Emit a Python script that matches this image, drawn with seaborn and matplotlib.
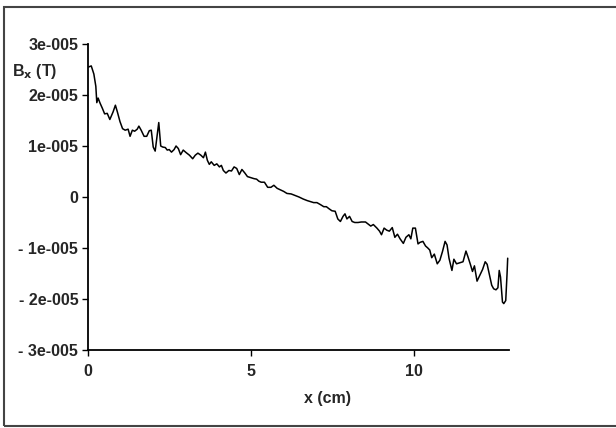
import numpy as np
import pandas as pd
import matplotlib
matplotlib.use("Agg")
import matplotlib.pyplot as plt
import seaborn as sns
from matplotlib.patches import Rectangle

# position along the probe (cm)
x_cm = [
    0.02, 0.10, 0.18, 0.24, 0.27, 0.31, 0.37, 0.44, 0.51, 0.59, 0.67, 0.77, 0.84, 0.90,
    0.98, 1.06, 1.14, 1.23, 1.29, 1.36, 1.43, 1.51, 1.56, 1.63, 1.72, 1.80, 1.88, 1.94,
    2.00, 2.06, 2.13, 2.17, 2.23, 2.29, 2.37, 2.43, 2.49, 2.56, 2.64,
    2.70, 2.77, 2.84, 2.92, 3.01, 3.11, 3.21, 3.29, 3.37, 3.46, 3.54, 3.60, 3.66, 3.72,
    3.78, 3.87, 3.95, 4.03, 4.09, 4.15, 4.23, 4.32, 4.40, 4.48, 4.56, 4.64, 4.72, 4.81,
    4.89, 4.99, 5.09, 5.17, 5.24,
    5.31, 5.41, 5.51, 5.61, 5.70, 5.80, 5.90, 6.00, 6.10, 6.23, 6.35, 6.47, 6.60, 6.72,
    6.82, 6.92, 7.02, 7.13, 7.23, 7.31, 7.39, 7.48, 7.58, 7.66, 7.74, 7.82, 7.88,
    7.94, 8.02, 8.10, 8.18, 8.28, 8.38, 8.51, 8.59, 8.67, 8.75, 8.86, 8.94, 9.00, 9.08,
    9.16, 9.24, 9.33, 9.41, 9.49, 9.57, 9.67, 9.75, 9.84, 9.90, 9.96, 10.04, 10.12, 10.18,
    10.27, 10.35,
    10.42, 10.48, 10.54, 10.62, 10.71, 10.79, 10.87, 10.95, 11.01, 11.07, 11.16, 11.22,
    11.30, 11.40, 11.50, 11.59, 11.65, 11.73, 11.79, 11.85, 11.93, 12.02, 12.10, 12.18,
    12.24, 12.30, 12.38, 12.44, 12.51, 12.57, 12.61, 12.65, 12.71, 12.75, 12.81, 12.85,
    12.87,
]

# Bx in units of 1e-5 T
bx_e5 = [
    2.55, 2.57, 2.41, 2.17, 1.85, 1.94, 1.84, 1.74, 1.63, 1.64, 1.52, 1.67, 1.80, 1.67,
    1.48, 1.34, 1.31, 1.33, 1.19, 1.31, 1.29, 1.33, 1.39, 1.31, 1.19, 1.19, 1.30, 1.31,
    0.98, 0.90, 1.25, 1.46, 1.00, 0.98, 0.97, 0.92, 0.93, 0.88, 0.93,
    1.00, 0.95, 0.83, 0.92, 0.87, 0.82, 0.75, 0.82, 0.86, 0.82, 0.77, 0.88, 0.72, 0.64,
    0.69, 0.62, 0.65, 0.59, 0.62, 0.52, 0.47, 0.52, 0.51, 0.59, 0.56, 0.44, 0.54, 0.47,
    0.40, 0.38, 0.36, 0.35, 0.31,
    0.29, 0.29, 0.19, 0.19, 0.23, 0.17, 0.14, 0.11, 0.07, 0.06, 0.03, 0.00, -0.04, -0.07,
    -0.09, -0.11, -0.11, -0.15, -0.19, -0.19, -0.23, -0.27, -0.28, -0.43, -0.48, -0.38, -0.33,
    -0.43, -0.38, -0.48, -0.50, -0.50, -0.49, -0.49, -0.53, -0.57, -0.54, -0.61, -0.67, -0.74, -0.61,
    -0.65, -0.67, -0.60, -0.79, -0.73, -0.82, -0.91, -0.79, -0.74, -0.82, -0.61, -0.61, -0.92, -0.89,
    -0.87, -0.96,
    -1.00, -1.04, -1.19, -1.12, -1.31, -1.24, -1.07, -0.87, -0.94, -1.20, -1.44, -1.22,
    -1.31, -1.29, -1.27, -1.06, -1.17, -1.33, -1.46, -1.35, -1.65, -1.53, -1.42, -1.27,
    -1.32, -1.50, -1.73, -1.80, -1.82, -1.78, -1.44, -1.57, -2.06, -2.09, -2.03, -1.51,
    -1.20,
]

y_ticks = [3e-5, 2e-5, 1e-5, 0, -1e-5, -2e-5, -3e-5]
y_tick_labels = ["3e-005", "2e-005", "1e-005", "0", "- 1e-005", "- 2e-005", "- 3e-005"]
x_ticks = [0, 5, 10]
x_tick_labels = ["0", "5", "10"]

df = pd.DataFrame({"x": x_cm, "bx": np.array(bx_e5) * 1e-5})

sns.set_style("white")
plt.rcParams["font.family"] = ["Liberation Sans", "DejaVu Sans"]

fs = 11.5
fig = plt.figure(figsize=(6.16, 4.28), dpi=100)
ax = fig.add_axes([88 / 616, 1 - 350 / 428, 421 / 616, 306 / 428])

sns.lineplot(data=df, x="x", y="bx", color="black", linewidth=1.1, ax=ax)

ax.set_xlim(0, 12.91)
ax.set_ylim(-3e-5, 3e-5)
ax.set_xticks(x_ticks)
ax.set_xticklabels(x_tick_labels, fontsize=fs, fontweight="bold")
ax.set_yticks(y_ticks)
ax.set_yticklabels(y_tick_labels, fontsize=fs, fontweight="bold")
ax.set_xlabel("")
ax.set_ylabel("")

for side in ["top", "right"]:
    ax.spines[side].set_visible(False)
for side in ["left", "bottom"]:
    ax.spines[side].set_color("black")
    ax.spines[side].set_linewidth(1.3)
ax.tick_params(axis="both", direction="out", length=4, width=1.0, color="black",
               left=True, bottom=True, pad=3)
ax.tick_params(axis="x", pad=6)

fig.text(12 / 616, 1 - 76 / 428, r"B$_\mathbf{x}$ (T)", fontsize=fs,
         fontweight="bold", ha="left", va="baseline")
fig.text(328 / 616, 1 - 398 / 428, "x (cm)", fontsize=fs, fontweight="bold",
         ha="center", va="center")

# frame around the whole chart
fig.patches.append(Rectangle((4 / 616, 2 / 428), 1.0, 1 - 9 / 428, fill=False,
                             edgecolor="#444444", linewidth=1.5,
                             transform=fig.transFigure, figure=fig))

fig.savefig("out.png", dpi=100)
